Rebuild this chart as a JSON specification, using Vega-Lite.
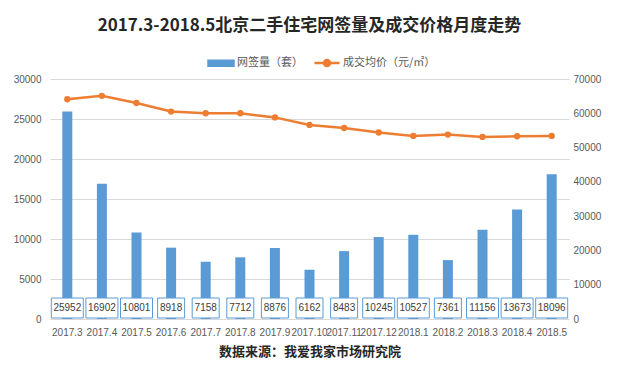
{
  "$schema": "https://vega.github.io/schema/vega-lite/v6.json",
  "width": 519,
  "height": 240,
  "autosize": {"type": "none"},
  "padding": {"left": 50, "top": 79, "right": 57, "bottom": 65},
  "background": "white",
  "title": {
    "text": "2017.3-2018.5北京二手住宅网签量及成交价格月度走势",
    "fontSize": 17,
    "fontWeight": "bold",
    "font": "Noto Sans CJK SC",
    "color": "#262626",
    "anchor": "middle",
    "offset": 14
  },
  "config": {
    "font": "Liberation Sans, Noto Sans CJK SC",
    "view": {"stroke": null},
    "axis": {"labelColor": "#595959", "labelFontSize": 10, "ticks": false, "domain": false, "titleColor": "#262626"}
  },
  "data": {
    "values": [
      {"month": "2017.3", "n": 25952, "price": 64100},
      {"month": "2017.4", "n": 16902, "price": 65100},
      {"month": "2017.5", "n": 10801, "price": 63000},
      {"month": "2017.6", "n": 8918, "price": 60500},
      {"month": "2017.7", "n": 7158, "price": 60000},
      {"month": "2017.8", "n": 7712, "price": 60000},
      {"month": "2017.9", "n": 8876, "price": 58800},
      {"month": "2017.10", "n": 6162, "price": 56600},
      {"month": "2017.11", "n": 8483, "price": 55700},
      {"month": "2017.12", "n": 10245, "price": 54400},
      {"month": "2018.1", "n": 10527, "price": 53400},
      {"month": "2018.2", "n": 7361, "price": 53800},
      {"month": "2018.3", "n": 11156, "price": 53100},
      {"month": "2018.4", "n": 13673, "price": 53300},
      {"month": "2018.5", "n": 18096, "price": 53400}
    ]
  },
  "encoding": {
    "x": {
      "field": "month",
      "type": "nominal",
      "sort": null,
      "scale": {"paddingInner": 0, "paddingOuter": 0},
      "axis": {
        "labelAngle": 0,
        "labelOverlap": false,
        "labelPadding": 8,
        "title": "数据来源：我爱我家市场研究院",
        "titleFont": "Noto Sans CJK SC",
        "titleFontSize": 13,
        "titleFontWeight": "bold",
        "titlePadding": 8
      }
    }
  },
  "layer": [
    {
      "layer": [
        {
          "mark": {"type": "bar", "size": 10},
          "encoding": {
            "y": {
              "field": "n",
              "type": "quantitative",
              "scale": {"domain": [0, 30000]},
              "axis": {"values": [0, 5000, 10000, 15000, 20000, 25000, 30000], "format": "d", "title": null, "grid": true, "gridColor": "#D9D9D9", "labelPadding": 9, "labelOverlap": false}
            },
            "color": {
              "datum": "网签量（套）",
              "scale": {"domain": ["网签量（套）", "成交均价（元/㎡）"], "range": ["#5B9BD5", "#ED7D31"]},
              "legend": {
                "title": null,
                "orient": "none",
                "direction": "horizontal",
                "legendX": 157,
                "legendY": -30,
                "symbolSize": 625,
                "columnPadding": 6,
                "labelFont": "Noto Sans CJK SC",
                "labelFontSize": 11,
                "labelColor": "#595959",
                "labelOffset": 2,
                "encode": {
                  "symbols": {
                    "update": {
                      "shape": {"signal": "datum.value == '网签量（套）' ? 'M-1,-0.2H1V0.2H-1Z' : 'M-1,0H1M0.24,0A0.24,0.24,0,1,1,-0.24,0A0.24,0.24,0,1,1,0.24,0'"},
                      "fill": {"signal": "datum.value == '网签量（套）' ? '#5B9BD5' : '#ED7D31'"},
                      "stroke": {"signal": "datum.value == '网签量（套）' ? null : '#ED7D31'"},
                      "strokeWidth": {"value": 2.5},
                      "opacity": {"value": 1},
                      "fillOpacity": {"value": 1}
                    }
                  }
                }
              }
            }
          }
        },
        {
          "mark": {"type": "bar", "fill": "white", "stroke": "#5B9BD5", "strokeWidth": 1},
          "encoding": {
            "y": {"datum": 2625, "type": "quantitative", "axis": {"values": [0, 5000, 10000, 15000, 20000, 25000, 30000], "format": "d", "title": null, "grid": true, "gridColor": "#D9D9D9", "labelPadding": 9, "labelOverlap": false}},
            "y2": {"datum": 125},
            "size": {"condition": {"test": "datum.n >= 10000", "value": 32}, "value": 27}
          }
        },
        {
          "mark": {"type": "text", "fontSize": 10, "color": "#404040", "baseline": "middle"},
          "encoding": {
            "y": {"datum": 1375, "type": "quantitative", "axis": {"values": [0, 5000, 10000, 15000, 20000, 25000, 30000], "format": "d", "title": null, "grid": true, "gridColor": "#D9D9D9", "labelPadding": 9, "labelOverlap": false}},
            "text": {"field": "n", "type": "quantitative", "format": "d"}
          }
        }
      ]
    },
    {
      "mark": {"type": "line", "strokeWidth": 2.5, "point": {"filled": true, "size": 40}},
      "encoding": {
        "y": {
          "field": "price",
          "type": "quantitative",
          "scale": {"domain": [0, 70000]},
          "axis": {"orient": "right", "values": [0, 10000, 20000, 30000, 40000, 50000, 60000, 70000], "format": "d", "title": null, "grid": false, "labelPadding": 4}
        },
        "color": {"datum": "成交均价（元/㎡）"}
      }
    }
  ],
  "resolve": {"scale": {"y": "independent"}}
}
